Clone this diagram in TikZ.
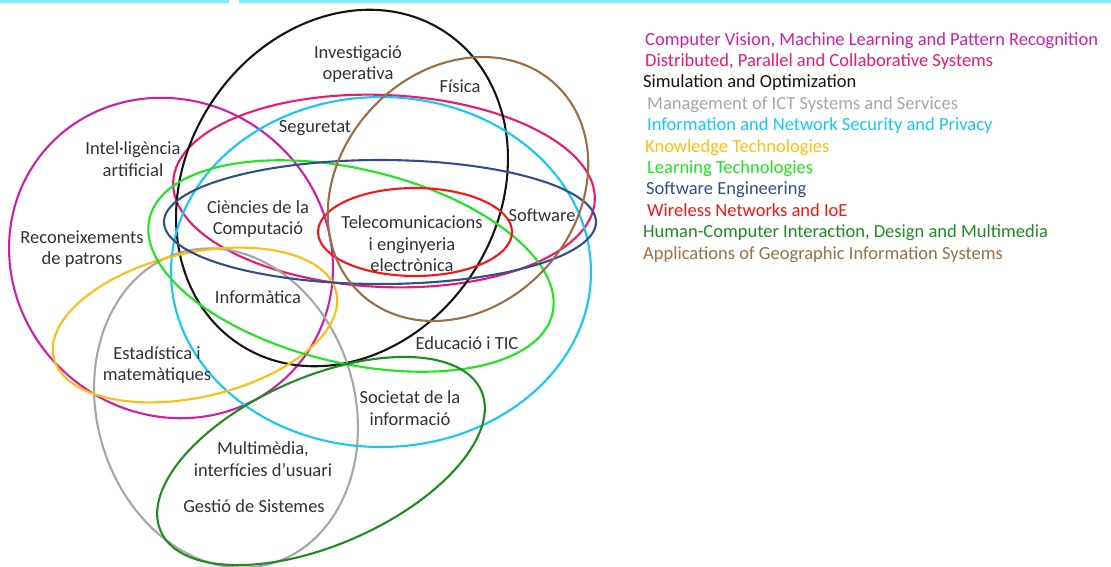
\documentclass[tikz,border=0pt]{standalone}
\usepackage{fontspec}
\setmainfont{Carlito}
\usepackage{tikz}
\usetikzlibrary{positioning}
\usepackage{xcolor}
\definecolor{cvcol}{RGB}{206,30,170}
\definecolor{dpcol}{RGB}{238,24,110}
\definecolor{socol}{RGB}{20,20,20}
\definecolor{mgcol}{RGB}{166,166,166}
\definecolor{sccol}{RGB}{20,200,250}
\definecolor{ktcol}{RGB}{255,190,20}
\definecolor{ltcol}{RGB}{30,230,30}
\definecolor{secol}{RGB}{47,80,140}
\definecolor{wncol}{RGB}{250,20,20}
\definecolor{hccol}{RGB}{30,140,30}
\definecolor{gicol}{RGB}{155,110,70}
\definecolor{barcol}{RGB}{130,232,250}
\definecolor{txtcol}{RGB}{50,50,50}

\begin{document}
\begin{tikzpicture}[x=1pt,y=-1pt,
  area/.style={line width=2.1pt},
  lbl/.style={text=txtcol, align=center, inner sep=0pt, font=\fontsize{18.5}{21.5}\selectfont},
  keytext/.style={anchor=base west, inner sep=0pt, font=\fontsize{18.5}{21.5}\selectfont}]
  \useasboundingbox (0,0) rectangle (1111,566);
  \fill[barcol] (0,0) rectangle (229,3);
  \fill[barcol] (239,0) rectangle (1111,3);
  % areas
  \draw[area,cvcol,rotate around={-40:(171,258)}] (171,258) ellipse [x radius=166, y radius=156];
  \draw[area,dpcol,rotate around={-2.5:(384,191)}] (384,191) ellipse [x radius=211, y radius=96];
  \draw[area,socol,rotate around={56.7:(342,188)}] (342,188) ellipse [x radius=187, y radius=156];
  \draw[area,mgcol,rotate around={16.4:(226,408)}] (226,408) ellipse [x radius=129, y radius=162];
  \draw[area,sccol] (381,272) ellipse [x radius=210, y radius=175];
  \draw[area,ktcol,rotate around={13:(195,325)}] (195,325) ellipse [x radius=145, y radius=72];
  \draw[area,ltcol,rotate around={-13.3:(351,266)}] (351,266) ellipse [x radius=207, y radius=97];
  \draw[area,secol] (380,222) ellipse [x radius=216, y radius=62];
  \draw[area,wncol] (415,232) ellipse [x radius=97, y radius=44];
  \draw[area,hccol,rotate around={23.6:(321,461)}] (321,461) ellipse [x radius=175, y radius=84];
  \draw[area,gicol,rotate around={47:(458,189)}] (458,189) ellipse [x radius=143, y radius=118];
  % labels
  \node[lbl] (invest) at (358,64) {Investigació\\operativa};
  \node[lbl] (fisica) at (460,86) {Física};
  \node[lbl] (segur) at (315,128) {Seguretat};
  \node[lbl] (intel) at (133,159) {Intel·ligència\\artificial};
  \node[lbl] (cienc) at (258,219) {Ciències de la\\Computació};
  \node[lbl] (telecom) at (412,244) {Telecomunicacions\\i enginyeria\\electrònica};
  \node[lbl] (softw) at (542,215) {Software};
  \node[lbl] (recon) at (82,249) {Reconeixements\\de patrons};
  \node[lbl] (inform) at (258,297) {Informàtica};
  \node[lbl] (estad) at (157,365) {Estadística i\\matemàtiques};
  \node[lbl] (educ) at (467,343) {Educació i TIC};
  \node[lbl] (societ) at (410,408) {Societat de la\\informació};
  \node[lbl] (multim) at (263,459) {Multimèdia,\\interfícies d’usuari};
  \node[lbl] (gestio) at (254,506) {Gestió de Sistemes};
  % legend
  \foreach \txt/\col/\px [count=\i] in {
    {Computer Vision, Machine Learning and Pattern Recognition}/cvcol/645,
    {Distributed, Parallel and Collaborative Systems}/dpcol/645,
    {Simulation and Optimization}/socol/643,
    {Management of ICT Systems and Services}/mgcol/647,
    {Information and Network Security and Privacy}/sccol/647,
    {Knowledge Technologies}/ktcol/645,
    {Learning Technologies}/ltcol/647,
    {Software Engineering}/secol/646,
    {Wireless Networks and IoE}/wncol/647,
    {Human-Computer Interaction, Design and Multimedia}/hccol/643,
    {Applications of Geographic Information Systems}/gicol/643}
    \node[keytext,text=\col] (key\i) at (\px,{45+21.4*(\i-1)}) {\txt};
\end{tikzpicture}
\end{document}
